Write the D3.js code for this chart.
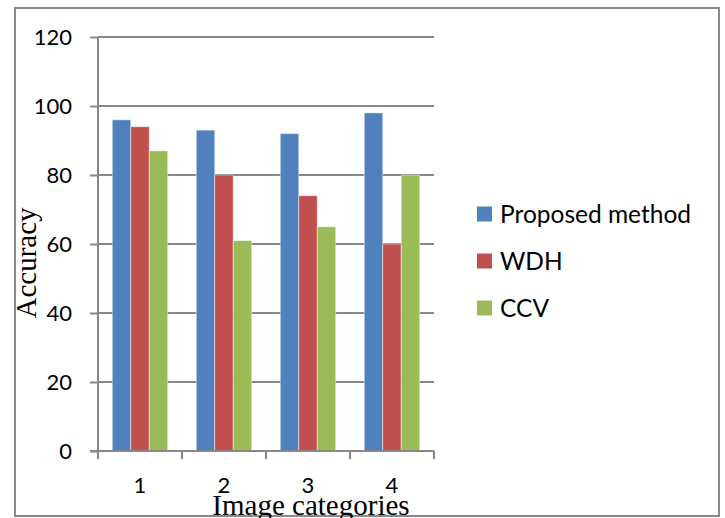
<!DOCTYPE html>
<html>
<head>
<meta charset="utf-8">
<script src="https://cdn.jsdelivr.net/npm/d3@7/dist/d3.min.js"></script>
<style>
  html, body { margin: 0; padding: 0; background: #fff; }
  svg { display: block; }
</style>
</head>
<body>
<svg id="chart" width="725" height="518"></svg>
<script>
const categories = ["1", "2", "3", "4"];
const seriesNames = ["Proposed method", "WDH", "CCV"];
const proposed = [96, 93, 92, 98];
const wdh = [94, 80, 74, 60];
const ccv = [87, 61, 65, 80];
const yTicks = [0, 20, 40, 60, 80, 100, 120];
const colors = ["#4f81bd", "#c0504d", "#9bbb59"];

const seriesValues = [proposed, wdh, ccv];
const sans = "Lato, 'Open Sans', sans-serif";
const serif = "'Liberation Serif', 'Times New Roman', serif";

const svg = d3.select("#chart");
const margin = { left: 98, right: 434, top: 37, bottom: 451 };

const x = d3.scaleBand().domain(categories).range([margin.left, margin.right]).paddingInner(0.34).paddingOuter(0.17);
const x1 = d3.scaleBand().domain(seriesNames).range([0, x.bandwidth()]);
const xBoundary = d3.scaleLinear().domain([0, categories.length]).range([margin.left, margin.right]);
const y = d3.scaleLinear().domain([0, 120]).range([margin.bottom, margin.top]);

const gridColor = "#878787";

// frame
svg.append("rect").attr("x", 15).attr("y", 8).attr("width", 704).attr("height", 508)
  .attr("fill", "none").attr("stroke", "#8a8a8a").attr("stroke-width", 2);

// gridlines
svg.append("g").selectAll("line").data(yTicks.filter(d => d > 0)).join("line")
  .attr("x1", margin.left).attr("x2", margin.right)
  .attr("y1", d => y(d)).attr("y2", d => y(d))
  .attr("stroke", gridColor).attr("stroke-width", 2);

// bars
const groups = svg.append("g").selectAll("g").data(categories).join("g")
  .attr("transform", d => `translate(${x(d)},0)`);
groups.selectAll("rect").data((c, i) => seriesNames.map((s, j) => ({ s, j, v: seriesValues[j][i] })))
  .join("rect")
  .attr("x", d => x1(d.s)).attr("width", x1.bandwidth())
  .attr("y", d => y(d.v)).attr("height", d => y(0) - y(d.v))
  .attr("fill", d => colors[d.j])
  .attr("stroke", "rgba(255,255,255,0.45)").attr("stroke-width", 1);

// y axis
const yAxis = d3.axisLeft(y).tickValues(yTicks).tickSize(8).tickPadding(18);
const yg = svg.append("g").attr("transform", `translate(${margin.left},0)`).call(yAxis);
yg.select(".domain").attr("stroke", gridColor).attr("stroke-width", 2).attr("d", `M0,${margin.top}V${margin.bottom}`);
yg.selectAll(".tick line").attr("stroke", gridColor).attr("stroke-width", 2);
yg.selectAll(".tick text").attr("font-family", sans).attr("font-size", 22).attr("fill", "#000").attr("dy", "0.35em");

// x axis
const xg = svg.append("g").attr("transform", `translate(0,${margin.bottom})`);
xg.append("line").attr("x1", margin.left - 8).attr("x2", margin.right).attr("y1", 0).attr("y2", 0)
  .attr("stroke", gridColor).attr("stroke-width", 2);
xg.selectAll("line.tk").data(d3.range(categories.length + 1)).join("line").attr("class", "tk")
  .attr("x1", d => xBoundary(d)).attr("x2", d => xBoundary(d))
  .attr("y1", 0).attr("y2", 8).attr("stroke", gridColor).attr("stroke-width", 2);
xg.selectAll("text").data(categories).join("text")
  .attr("x", d => x(d) + x.bandwidth() / 2).attr("y", 34)
  .attr("text-anchor", "middle").attr("dy", "0.35em")
  .attr("font-family", sans).attr("font-size", 22).attr("fill", "#000").text(d => d);

// axis titles
svg.append("text").attr("x", 311).attr("y", 515).attr("text-anchor", "middle")
  .attr("font-family", serif).attr("font-size", 29).attr("fill", "#000").text("Image categories");
svg.append("text").attr("transform", "translate(36,263) rotate(-90)").attr("text-anchor", "middle")
  .attr("font-family", serif).attr("font-size", 29).attr("fill", "#000").text("Accuracy");

// legend
const legendY = [214, 261, 308];
const lg = svg.append("g").selectAll("g").data(seriesNames).join("g")
  .attr("transform", (d, i) => `translate(477,${legendY[i]})`);
lg.append("rect").attr("x", 0).attr("y", -7.5).attr("width", 15).attr("height", 15)
  .attr("fill", (d, i) => colors[i]);
lg.append("text").attr("x", 23).attr("y", 0).attr("dy", "0.35em")
  .attr("font-family", sans).attr("font-size", 24.5).attr("fill", "#000").text(d => d);
</script>
</body>
</html>
